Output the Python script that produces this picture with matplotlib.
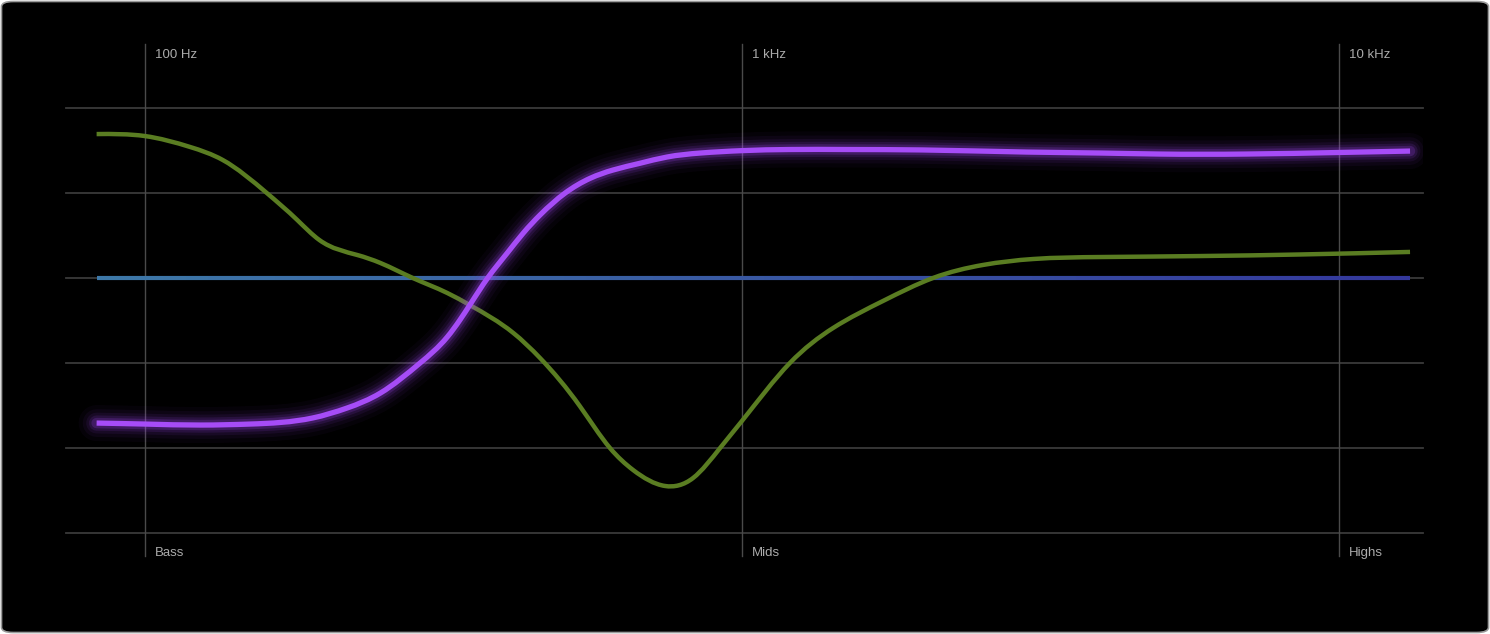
import numpy as np
import matplotlib.pyplot as plt
from matplotlib.patches import FancyBboxPatch, PathPatch
from matplotlib.path import Path
from matplotlib.collections import LineCollection

# purple response: frequency (Hz) / gain (dB)
purple_freqs = [83, 100, 124, 150, 191, 218, 248, 289, 321, 337, 350, 375, 404, 430,
                459, 505, 557, 608, 675, 749, 851, 1000, 1200, 1500, 2000, 3000, 4000,
                5000, 7000, 10000, 13150]
purple_db = [-10.24, -10.31, -10.38, -10.31, -9.88, -9.18, -8.12, -6.0, -4.16, -2.96,
             -1.91, 0.0, 1.74, 3.16, 4.45, 5.98, 7.04, 7.62, 8.1, 8.54, 8.82, 8.99,
             9.07, 9.07, 9.04, 8.89, 8.82, 8.75, 8.75, 8.86, 8.96]

# green response
green_freqs = [83, 100, 119, 135, 160, 180, 196, 227, 248, 281, 321, 350, 414, 459,
               535, 601, 657, 743, 828, 919, 1000, 1203, 1421, 1723, 2089, 2533, 3072,
               3978, 5852, 8603, 13150]
green_db = [10.16, 10.02, 9.25, 8.33, 6.0, 4.09, 2.68, 1.62, 1.06, 0.0, -1.06, -1.91,
            -3.88, -5.65, -9.04, -12.0, -13.55, -14.68, -14.12, -12.0, -10.09, -6.0,
            -3.53, -1.62, 0.0, 0.92, 1.34, 1.48, 1.55, 1.66, 1.84]

# blue flat reference
blue_freqs = [83, 13150]
blue_db = [0.0, 0.0]

grid_db = [-18, -12, -6, 0, 6, 12]
ref_freqs = [100, 1000, 10000]
top_labels = ['100 Hz', '1 kHz', '10 kHz']
bottom_labels = ['Bass', 'Mids', 'Highs']


def smooth_path(freqs, vals):
    # natural cubic spline through the points (log-frequency), drawn as bezier segments
    u = np.log10(np.array(freqs, dtype=float))
    v = np.array(vals, dtype=float)
    n = len(u)
    h = np.diff(u)
    A = np.zeros((n, n))
    b = np.zeros(n)
    A[0, 0] = A[-1, -1] = 1
    for i in range(1, n - 1):
        A[i, i - 1] = h[i - 1]
        A[i, i] = 2 * (h[i - 1] + h[i])
        A[i, i + 1] = h[i]
        b[i] = 6 * ((v[i + 1] - v[i]) / h[i] - (v[i] - v[i - 1]) / h[i - 1])
    M = np.linalg.solve(A, b)
    m = np.zeros(n)
    for i in range(n - 1):
        m[i] = (v[i + 1] - v[i]) / h[i] - h[i] * (2 * M[i] + M[i + 1]) / 6
    m[-1] = (v[-1] - v[-2]) / h[-1] + h[-1] * (M[-2] + 2 * M[-1]) / 6
    verts = [(u[0], v[0])]
    codes = [Path.MOVETO]
    for i in range(n - 1):
        verts += [(u[i] + h[i] / 3, v[i] + m[i] * h[i] / 3),
                  (u[i + 1] - h[i] / 3, v[i + 1] - m[i + 1] * h[i] / 3),
                  (u[i + 1], v[i + 1])]
        codes += [Path.CURVE4] * 3
    verts = np.array(verts)
    verts[:, 0] = 10 ** verts[:, 0]
    return Path(verts, codes)


W, H = 1490, 634
fig = plt.figure(figsize=(W / 100, H / 100), dpi=100)
fig.patch.set_facecolor('white')

bg = FancyBboxPatch((1.5 / W, 1.5 / H), (W - 3) / W, (H - 3) / H,
                    boxstyle='round,pad=0,rounding_size=0.008',
                    transform=fig.transFigure, facecolor='black',
                    edgecolor='#9a9a9a', linewidth=1.2, zorder=-10)
fig.patches.append(bg)

ax = fig.add_axes([66 / W, 1 - 533 / H, (1423 - 66) / W, (533 - 108) / H])
ax.set_zorder(5)
ax.set_facecolor('none')
ax.set_xscale('log')
ax.set_xlim(73.76, 13824)
ax.set_ylim(-18, 12)
ax.axis('off')

for g in grid_db:
    ax.axhline(g, color='#3a3a3a', lw=1.3, clip_on=False, zorder=1)

txt_font = ['Liberation Sans', 'DejaVu Sans']
for f, tl, bl in zip(ref_freqs, top_labels, bottom_labels):
    ax.plot([f, f], [-19.62, 16.52], color='#4a4a4a', lw=1.0, clip_on=False, zorder=1)
    ax.annotate(tl, xy=(f, 1.1247), xycoords=('data', 'axes fraction'),
                xytext=(7, 0), textcoords='offset points', color='#ababab',
                fontsize=9.5, family=txt_font, va='center', ha='left')
    ax.annotate(bl, xy=(f, -0.0471), xycoords=('data', 'axes fraction'),
                xytext=(7, 0), textcoords='offset points', color='#ababab',
                fontsize=9.5, family=txt_font, va='center', ha='left')

# blue flat line with a colour gradient (split into short pieces for the gradient)
bx = np.geomspace(blue_freqs[0], blue_freqs[1], 60)
by = np.full_like(bx, blue_db[0])
pts = np.column_stack([bx, by]).reshape(-1, 1, 2)
segs = np.concatenate([pts[:-1], pts[1:]], axis=1)
c0 = np.array([0x3d, 0x78, 0xa8]) / 255
c1 = np.array([0x34, 0x38, 0x9c]) / 255
t = np.linspace(0, 1, len(segs))
cols = [tuple(c0 * (1 - k) + c1 * k) for k in t]
lc = LineCollection(segs, colors=cols, linewidths=3.0, zorder=3, capstyle='butt')
ax.add_collection(lc)

green_path = smooth_path(green_freqs, green_db)
ax.add_patch(PathPatch(green_path, fill=False, edgecolor='#5a7d22', lw=3.2,
                       capstyle='butt', joinstyle='round', zorder=4))

# purple with glow
purple_path = smooth_path(purple_freqs, purple_db)
for w, a in [(26, 0.035), (20, 0.05), (15, 0.08), (11, 0.12), (7.5, 0.2)]:
    ax.add_patch(PathPatch(purple_path, fill=False, edgecolor='#a347f5', lw=w,
                           alpha=a, capstyle='round', joinstyle='round', zorder=5))
ax.add_patch(PathPatch(purple_path, fill=False, edgecolor='#a64cf7', lw=3.8,
                       capstyle='butt', joinstyle='round', zorder=6))

fig.savefig('out.png', dpi=100, facecolor=fig.get_facecolor())
